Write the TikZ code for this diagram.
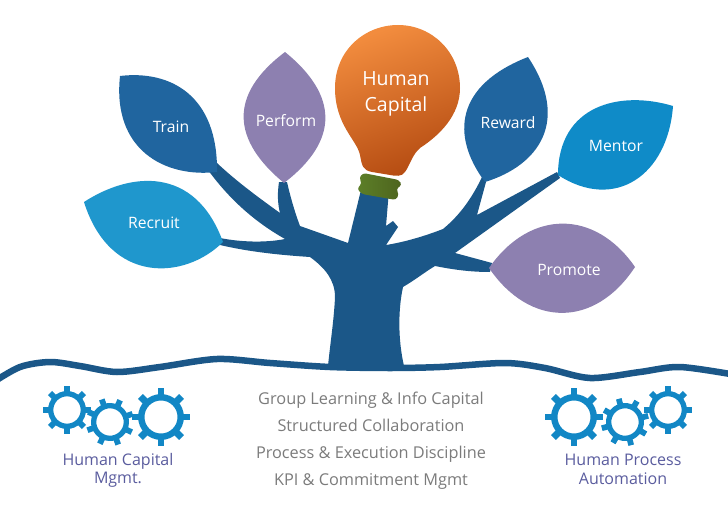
\documentclass[tikz,border=0pt]{standalone}
\usepackage{fontspec}
\setmainfont{Open Sans}
\definecolor{treeblue}{HTML}{1B5788}
\definecolor{darkleaf}{HTML}{20659F}
\definecolor{skyleaf}{HTML}{1F97CD}
\definecolor{mentorleaf}{HTML}{0F8BC8}
\definecolor{purpleleaf}{HTML}{8D80B0}
\definecolor{gearblue}{HTML}{1287C5}
\definecolor{labelblue}{HTML}{5A5C9E}
\definecolor{textgrey}{HTML}{7B7B7B}
\definecolor{bulbtop}{HTML}{F28C3E}
\definecolor{bulbbottom}{HTML}{B54C12}
\definecolor{collarleft}{HTML}{5C7F28}
\definecolor{collarright}{HTML}{4E641E}
\tikzset {
  leaf text/.style = {
    anchor = base,
    text = white,
    font = \fontsize{15.7}{18}\selectfont
  },
  % grey lines under the tree
  center text/.style = {
    anchor = base,
    text = textgrey,
    font = \fontsize{16.3}{18}\selectfont
  },
  gear text/.style = {
    anchor = base,
    text = labelblue,
    font = \fontsize{16}{18}\selectfont
  },
  bulb text/.style = {
    anchor = base,
    text = white,
    font = \fontsize{19.5}{22}\selectfont
  },
  tree part/.style = {
    fill = treeblue
  },
  % cog wheel, #1 is the outer radius
  gearwheel/.pic = {
    \draw[gearblue, line width = 0.22*#1 pt] (0,0) circle ({0.68*#1});
    \foreach \ang in {0,45,...,315} {
      \draw[gearblue, line width = 0.24*#1 pt] (\ang:{0.7*#1}) -- (\ang:{#1});
    }
  }
}
\begin{document}
\begin{tikzpicture}[x=1pt, y=-1pt]
    \useasboundingbox (0,0) rectangle (728,516);

    % trunk and branches
    \fill[tree part] (361,190) -- (348,243) -- (300,226)
    .. controls (294,210) and (290,195) .. (287,182) -- (279,182)
    .. controls (277,195) and (278,205) .. (280,213)
    .. controls (255,195) and (235,180) .. (217,163) -- (208,170)
    .. controls (230,200) and (255,222) .. (285,239)
    .. controls (265,243) and (240,242) .. (220,238) -- (220,245)
    .. controls (250,252) and (280,255) .. (310,257)
    .. controls (325,268) and (335,280) .. (335,297)
    .. controls (334,320) and (330,345) .. (328,366) -- (404,366)
    .. controls (398,340) and (398,310) .. (403,287)
    .. controls (415,280) and (425,272) .. (435,266)
    .. controls (455,270) and (472,272) .. (490,272) -- (492,263)
    -- (455,253) -- (560,178) -- (557,172) -- (477,215) -- (486,182) -- (482,177)
    .. controls (472,198) and (460,215) .. (443,229)
    .. controls (425,236) and (405,242) .. (386,245)
    -- (398,227) -- (393,221) -- (386,226) -- (389,190) -- cycle;

    % ground line
    \draw[treeblue, line width = 6.5pt] plot[smooth] coordinates {
      (-8,383) (20,367) (50,362) (80,366) (117,372) (160,367) (217,359) (270,363)
      (330,367) (390,368) (440,367) (505,363) (545,368) (590,378) (640,372) (680,367) (736,375)
    };

    % leaves
    \fill[darkleaf] (120,76) .. controls (170,70) and (218,95) .. (217,172)
    .. controls (165,178) and (112,150) .. (120,76) -- cycle;
    \fill[skyleaf] (84,202) .. controls (130,172) and (195,165) .. (223,242)
    .. controls (185,280) and (110,285) .. (84,202) -- cycle;
    \fill[purpleleaf] (285,52) .. controls (228,95) and (232,140) .. (284,183)
    .. controls (340,140) and (338,95) .. (285,52) -- cycle;
    \fill[darkleaf] (528,57) .. controls (456,85) and (450,135) .. (485,182)
    .. controls (540,165) and (570,120) .. (528,57) -- cycle;
    \fill[mentorleaf] (558,175) .. controls (558,105) and (620,90) .. (673,106)
    .. controls (668,175) and (615,212) .. (558,175) -- cycle;
    \fill[purpleleaf] (489,268) .. controls (530,209) and (595,209) .. (635,267)
    .. controls (595,328) and (530,328) .. (489,268) -- cycle;

    % bulb and its collar
    \shade[top color = bulbtop, bottom color = bulbbottom, shading angle = 20]
    (335,88) .. controls (335,50) and (365,25) .. (398,25)
    .. controls (432,25) and (460,52) .. (460,88)
    .. controls (460,115) and (440,135) .. (420,148)
    .. controls (412,155) and (410,165) .. (405,172)
    .. controls (402,177) and (395,176) .. (390,175) -- (372,172)
    .. controls (362,170) and (362,165) .. (360,155)
    .. controls (357,140) and (335,125) .. (335,88) -- cycle;
    \shade[left color = collarleft, right color = collarright, rounded corners = 3pt]
    (363,173) -- (399,180) -- (402,185) -- (396,189) -- (399,194) -- (396,200)
    -- (362,194) -- (357,189) -- (362,183) -- (359,178) -- cycle;

    % labels
    \node[bulb text] (bulb-top) at (396,86) {Human};
    \node[bulb text] (bulb-bottom) at (396,112) {Capital};
    \node[leaf text] (train) at (171,132) {Train};
    \node[leaf text] (recruit) at (154,228) {Recruit};
    \node[leaf text] (perform) at (286,127) {Perform};
    \node[leaf text] (reward) at (508,129) {Reward};
    \node[leaf text] (mentor) at (616,152) {Mentor};
    \node[leaf text] (promote) at (569,275) {Promote};

    % gears
    \pic (gear-a) at (67,410) {gearwheel=24};
    \pic (gear-b) at (110,422) [rotate=20] {gearwheel=24};
    \pic (gear-c) at (161,417) {gearwheel=29};
    \pic (gear-d) at (574,417) {gearwheel=29};
    \pic (gear-e) at (625,422) [rotate=15] {gearwheel=24};
    \pic (gear-f) at (668,410) {gearwheel=24};

    \node[center text] (line-a) at (371,404) {Group Learning \& Info Capital};
    \node[center text] (line-b) at (371,431) {Structured Collaboration};
    \node[center text] (line-c) at (371,458) {Process \& Execution Discipline};
    \node[center text] (line-d) at (371,485) {KPI \& Commitment Mgmt};
    \node[gear text] (capital-top) at (118,465) {Human Capital};
    \node[gear text] (capital-bottom) at (118,483) {Mgmt.};
    \node[gear text] (process-top) at (623,465) {Human Process};
    \node[gear text] (process-bottom) at (623,484) {Automation};
  \end{tikzpicture}
\end{document}
